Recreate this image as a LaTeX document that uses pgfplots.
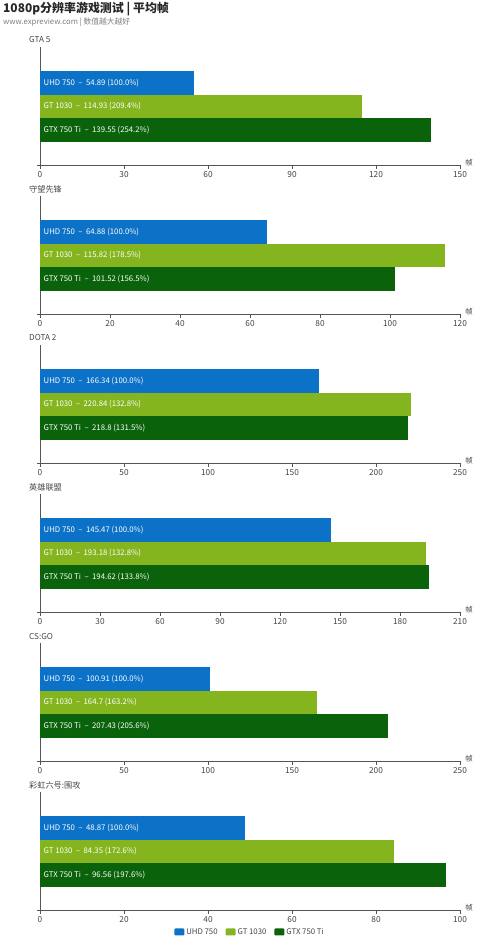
\documentclass[border=0pt]{standalone}
\usepackage{fontspec}
\setmainfont{Noto Sans CJK SC}
\usepackage{pgfplots}
\pgfplotsset{compat=1.18}

\definecolor{cuhd}{HTML}{0B72C7}
\definecolor{cgt}{HTML}{84B51F}
\definecolor{cgtx}{HTML}{0A620A}
\definecolor{axgray}{HTML}{555555}
\definecolor{txtgray}{HTML}{444444}

\tikzset{barlbl/.style={anchor=west, text=white, font=\fontsize{7.8}{9}\selectfont, inner sep=0pt, xshift=3.5bp}}
\newcommand{\dsh}{\hspace{0.45em}\textendash\hspace{0.45em}}

\pgfplotsset{
  panel/.style={
    scale only axis, width=420bp, height=118bp,
    anchor=south west,
    xmin=0, ymin=0, ymax=118,
    axis x line*=bottom, axis y line*=left,
    axis line style={axgray, line width=0.8bp},
    ytick={0}, yticklabels={},
    tick align=outside, major tick length=3.5bp,
    tick style={axgray, line width=0.8bp},
    xticklabel style={font=\fontsize{8.3}{10}\selectfont, text=txtgray, yshift=0.5bp},
    /pgf/number format/assume math mode=true,
    clip=false,
  },
  barbase/.style={xbar, bar shift=0pt, bar width=23.5bp, draw=none,
    legend image code/.code={\fill[##1, rounded corners=1bp] (0bp,-3.5bp) rectangle (10bp,3.5bp);}},
  bar uhd/.style={barbase, fill=cuhd},
  bar gt/.style={barbase, fill=cgt},
  bar gtx/.style={barbase, fill=cgtx},
}

\newcommand{\barlabels}[3]{%
  \node[barlbl] at (axis cs:0,82) {#1};
  \node[barlbl] at (axis cs:0,58.5) {#2};
  \node[barlbl] at (axis cs:0,35) {#3};
  \node[anchor=center, text=txtgray, font=\fontsize{7.5}{8}\selectfont, inner sep=0pt] at (rel axis cs:1,0) [xshift=9bp, yshift=2.5bp] {帧};
}
\newcommand{\paneltitle}[1]{%
  \node[anchor=west, text=txtgray, font=\fontsize{8.2}{10}\selectfont, inner sep=0pt] at (rel axis cs:0,1) [xshift=-11bp, yshift=7bp] {#1};
}

\begin{document}
\begin{tikzpicture}
\useasboundingbox (0,0) rectangle (500bp,-950bp);
\node[anchor=west, inner sep=0pt, font=\fontsize{12}{14}\selectfont\bfseries, text=black!85] at (3bp,-9bp) {1080p分辨率游戏测试 | 平均帧};
\node[anchor=west, inner sep=0pt, font=\fontsize{7.8}{9}\selectfont, text=black!50] at (3bp,-22bp) {www.expreview.com | 数值越大越好};

% GTA 5
\begin{axis}[panel, at={(40bp,-165bp)}, xmax=150, xtick={0,30,...,150}]
\addplot[bar uhd] coordinates {(54.89,82)};
\addplot[bar gt] coordinates {(114.93,58.5)};
\addplot[bar gtx] coordinates {(139.55,35)};
\barlabels{UHD 750\dsh 54.89 (100.0\%)}{GT 1030\dsh 114.93 (209.4\%)}{GTX 750 Ti\dsh 139.55 (254.2\%)}
\paneltitle{GTA 5}
\end{axis}

% Overwatch
\begin{axis}[panel, at={(40bp,-314bp)}, xmax=120, xtick={0,20,...,120}]
\addplot[bar uhd] coordinates {(64.88,82)};
\addplot[bar gt] coordinates {(115.82,58.5)};
\addplot[bar gtx] coordinates {(101.52,35)};
\barlabels{UHD 750\dsh 64.88 (100.0\%)}{GT 1030\dsh 115.82 (178.5\%)}{GTX 750 Ti\dsh 101.52 (156.5\%)}
\paneltitle{守望先锋}
\end{axis}

% DOTA 2
\begin{axis}[panel, at={(40bp,-463bp)}, xmax=250, xtick={0,50,...,250}]
\addplot[bar uhd] coordinates {(166.34,82)};
\addplot[bar gt] coordinates {(220.84,58.5)};
\addplot[bar gtx] coordinates {(218.8,35)};
\barlabels{UHD 750\dsh 166.34 (100.0\%)}{GT 1030\dsh 220.84 (132.8\%)}{GTX 750 Ti\dsh 218.8 (131.5\%)}
\paneltitle{DOTA 2}
\end{axis}

% LoL
\begin{axis}[panel, at={(40bp,-612bp)}, xmax=210, xtick={0,30,...,210}]
\addplot[bar uhd] coordinates {(145.47,82)};
\addplot[bar gt] coordinates {(193.18,58.5)};
\addplot[bar gtx] coordinates {(194.62,35)};
\barlabels{UHD 750\dsh 145.47 (100.0\%)}{GT 1030\dsh 193.18 (132.8\%)}{GTX 750 Ti\dsh 194.62 (133.8\%)}
\paneltitle{英雄联盟}
\end{axis}

% CS:GO
\begin{axis}[panel, at={(40bp,-761bp)}, xmax=250, xtick={0,50,...,250}]
\addplot[bar uhd] coordinates {(100.91,82)};
\addplot[bar gt] coordinates {(164.7,58.5)};
\addplot[bar gtx] coordinates {(207.43,35)};
\barlabels{UHD 750\dsh 100.91 (100.0\%)}{GT 1030\dsh 164.7 (163.2\%)}{GTX 750 Ti\dsh 207.43 (205.6\%)}
\paneltitle{CS:GO}
\end{axis}

% R6
\begin{axis}[panel, at={(40bp,-910bp)}, xmax=100, xtick={0,20,...,100},
  legend columns=3,
  legend style={at={(0.5,-0.186)}, anchor=center, draw=none, fill=none,
    font=\fontsize{7.8}{9}\selectfont, text=txtgray,
    /tikz/every even column/.append style={column sep=6bp}},
  legend cell align=left]
\addplot[bar uhd] coordinates {(48.87,82)};
\addplot[bar gt] coordinates {(84.35,58.5)};
\addplot[bar gtx] coordinates {(96.56,35)};
\legend{UHD 750, GT 1030, GTX 750 Ti}
\barlabels{UHD 750\dsh 48.87 (100.0\%)}{GT 1030\dsh 84.35 (172.6\%)}{GTX 750 Ti\dsh 96.56 (197.6\%)}
\paneltitle{彩虹六号:围攻}
\end{axis}
\end{tikzpicture}
\end{document}
